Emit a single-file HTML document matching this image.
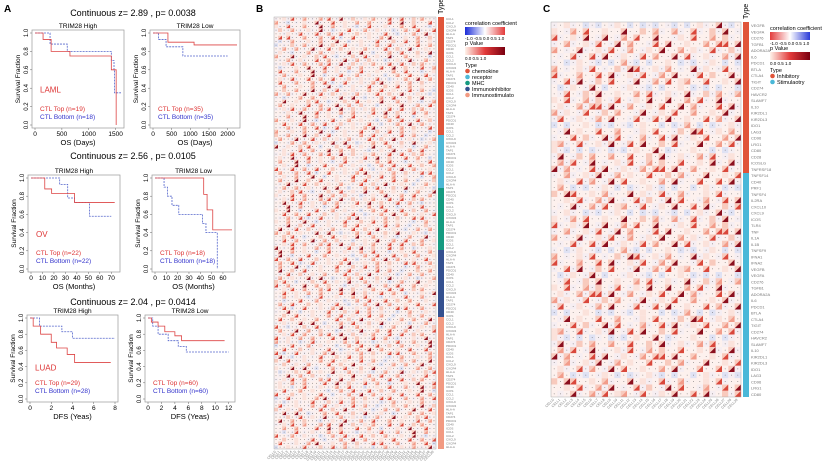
<!DOCTYPE html>
<html><head><meta charset="utf-8"><style>
body{margin:0;background:#fff;}
svg{display:block;font-family:"Liberation Sans",sans-serif;}
</style></head><body>
<svg id="fig" width="825" height="472" viewBox="0 0 825 472">
<text x="4" y="12" font-size="10" font-weight="bold">A</text>
<text x="256" y="12" font-size="10" font-weight="bold">B</text>
<text x="543" y="12" font-size="10" font-weight="bold">C</text>
<g id="km"></g>
<g id="hb"></g>
<g id="hc"></g>
</svg>
<script>
const NS='http://www.w3.org/2000/svg';
function mk(p,t,a,txt){const e=document.createElementNS(NS,t);for(const k in a)e.setAttribute(k,a[k]);if(txt!=null)e.textContent=txt;p.appendChild(e);return e;}

// ---- KM data ----
const plotTitles=["Continuous z= 2.89 , p= 0.0038","Continuous z= 2.56 , p= 0.0105","Continuous z= 2.04 , p= 0.0414"];
const cancers=["LAML","OV","LUAD"];
const xLabels=["OS (Days)","OS (Months)","DFS (Yeas)"];
const xMaxes=[[1600,2250],[75,68],[8,12.5]];
const xTicks=[[[0,500,1000,1500],[0,500,1000,1500,2000]],[[0,10,20,30,40,50,60,70],[0,10,20,30,40,50,60]],[[0,2,4,6,8],[0,2,4,6,8,10,12]]];
const nTop=[[19,35],[22,18],[29,60]];
const nBot=[[18,35],[22,18],[28,60]];
const redCurves=[
 [[[0,1],[150,0.93],[300,0.8],[650,0.75],[1380,0.75],[1420,0.6],[1500,0.6],[1510,0]],
  [[0,1],[400,0.9],[1100,0.87],[2250,0.87]]],
 [[[0,1],[12,0.88],[18,0.83],[38,0.73],[73,0.73]],
  [[0,1],[43,0.82],[46,0.65],[51,0.43],[68,0.43]]],
 [[[0,1],[0.3,0.9],[1,0.8],[2,0.7],[2.5,0.63],[3.5,0.55],[4.2,0.45],[7.6,0.45]],
  [[0,1],[0.5,0.95],[1.5,0.9],[2.5,0.83],[4,0.78],[5,0.72],[11.4,0.72]]]];
const blueCurves=[
 [[[0,1],[280,0.88],[600,0.8],[1370,0.8],[1420,0.7],[1470,0.6],[1480,0.35],[1600,0.35]],
  [[0,1],[150,0.93],[350,0.85],[800,0.75],[2000,0.75]]],
 [[[0,1],[25,0.93],[32,0.78],[38,0.73],[51,0.58],[70,0.58]],
  [[0,1],[8,0.9],[11,0.8],[15,0.7],[21,0.6],[42,0.5],[45,0.4],[55,0.4],[55,0]]],
 [[[0,1],[0.9,0.9],[3,0.83],[4,0.75],[8,0.75]],
  [[0,1],[0.7,0.9],[1.5,0.8],[3,0.72],[4.5,0.65],[5.7,0.58],[12,0.58]]]];
const boxes=[[[32,30,92,98],[150,30,90,98]],[[28,175,92,97],[152,175,83,97]],[[27,315,91,87],[145,315,90,87]]];
const titleY=[16,159,305];

const km=document.getElementById('km');
for(let r=0;r<3;r++){
 const t=mk(km,'text',{x:133,y:titleY[r],'font-size':9,'text-anchor':'middle'},plotTitles[r]);
 
 
 for(let c=0;c<2;c++){
  const [bx,by,bw,bh]=boxes[r][c];
  const g=mk(km,'g',{});
  
  
  const xs=v=>bx+3+v/xMaxes[r][c]*(bw-6);
  const ys=v=>by+bh-3-v*(bh-6);
  mk(g,'rect',{x:bx,y:by,width:bw,height:bh,fill:'none',stroke:'#999','stroke-width':0.7});
  mk(g,'text',{x:bx+bw/2,y:by-2,'font-size':6.5,'text-anchor':'middle'},c?'TRIM28 Low':'TRIM28 High');
  [0,0.2,0.4,0.6,0.8,1].forEach(v=>{
   mk(g,'line',{x1:bx,x2:bx-2,y1:ys(v),y2:ys(v),stroke:'#666','stroke-width':0.5});
   mk(g,'text',{x:bx-4,y:ys(v),'font-size':6,'text-anchor':'middle',transform:`rotate(-90 ${bx-4} ${ys(v)})`},v.toFixed(1));
  });
  xTicks[r][c].forEach(v=>{
   mk(g,'line',{x1:xs(v),x2:xs(v),y1:by+bh,y2:by+bh+2,stroke:'#666','stroke-width':0.5});
   mk(g,'text',{x:xs(v),y:by+bh+8,'font-size':6.5,'text-anchor':'middle'},String(v));
  });
  mk(g,'text',{x:bx+bw/2,y:by+bh+17,'font-size':7.5,'text-anchor':'middle'},xLabels[r]);
  mk(g,'text',{x:bx-12,y:by+bh/2,'font-size':6.5,'text-anchor':'middle',transform:`rotate(-90 ${bx-12} ${by+bh/2})`},'Survival Fraction');
  const step=(pts,col,dash)=>{let d='M'+xs(pts[0][0])+' '+ys(pts[0][1]);
   for(let i=1;i<pts.length;i++){d+=' H'+xs(pts[i][0])+' V'+ys(pts[i][1]);}
   const p=mk(g,'path',{d:d,fill:'none',stroke:col,'stroke-width':0.8});if(dash)p.setAttribute('stroke-dasharray','2 1');};
  step(blueCurves[r][c],'#5566cc',true);
  step(redCurves[r][c],'#dd4444',false);
  if(c==0)mk(g,'text',{x:bx+8,y:by+bh*0.64,'font-size':8,fill:'#d33'},cancers[r]);
  mk(g,'text',{x:bx+8,y:by+bh-17,'font-size':6.5,fill:'#d33'},'CTL Top (n='+nTop[r][c]+')');
  mk(g,'text',{x:bx+8,y:by+bh-9,'font-size':6.5,fill:'#33c'},'CTL Bottom (n='+nBot[r][c]+')');
 }
}

// ---- heatmap data (per-row pattern strings; 1-2 faint fill, 3-5 triangles light..dark, 'b' blue, '.' dot) ----
const rowPatternsB=[
 "..1.4..3...3.4..5..2..1.3...4..4..2.3...5.",
 ".3...3..4.b..4...1..3.5...1..3..2...4.4..",
 "4..b...2..4..1..5...3..1..b..3...5..1..2.",
 "..3..1...b..3..4...4..2..3...1..5..b...4.",
 ".4..2..5...1..b..3..3...5...4..2..1..3...",
 "2...4..3..b...1..5...4..1..3..3....4..5..",
 "..b..3...1..3...5..b..1...4...2..4..3..1.",
 ".1...4..3...5..3..2...b..1..5...3..4...3.",
 "3..4...2..1...4..b...3..5..3...1..4...4..",
 "..5..b...3..4...2..5...1..b...3..3..1...5",
 "1...3..4...b..1..4...3...5..3..1..b..4...",
 "..4..3..b...2..3...5..2..4...1...3..4..1."];
const rowPatternsC=[
 "..1..b.b..1.b.b.b..b.b.1..5.b.",
 "4..1.3...5.1..4..3...1.4...2.5",
 ".5..3.1..4..2.3...5..1.4..3..1",
 "3..4..2.5..1..3.4..1..5..2.3..",
 "..3..4.5..1.4..3.5...4.2..5.4.",
 ".4.5..1..4.3..5.4..1..3.5...4.",
 "5..3.4..5...1.4..3.2..4..1.5..",
 "3..4..1.5..4.5..2.4...5..3.4.1",
 ".1.b.b..b.1..b.b.3.b.b..1.b.b.",
 "4.5..3..1.4..5.3...4.5..1..3.4"];
const typeColorsB=["#e0553a","#4fb8d6","#159a80","#34508f","#f29a82"];
const typeBoundsB=[17,135,188,250,317,449];
const typeColorsC=["#e0553a","#4ab8d8"];
const typeBoundsC=[22,173,397];

function heat(gid,x0,y0,w,h,ncol,nrow,pats,tx,tcols,tb,rowOffset,legendX,legendTypes,cLabels,shift){
 const g=document.getElementById(gid);
 const cw=w/ncol,ch=h/nrow;
 const shade=['#fdf1ee','#fbe2db','#f8cabd','#f29c8a','#d9473b','#8b0f1e'];
 mk(g,'rect',{x:x0,y:y0,width:w,height:h,fill:'#fdf0ec'});
 for(let r=0;r<nrow;r++){const p=pats[(r*rowOffset)%pats.length];
  for(let c=0;c<ncol;c++){const ch_=p[(c+r*shift)%p.length];const x=x0+c*cw,y=y0+r*ch;
   if(ch_==='.'){mk(g,'rect',{x:x,y:y,width:cw,height:ch,fill:(r+c)%3?'#fdf1ee':'#f6eef2'});mk(g,'circle',{cx:x+cw/2,cy:y+ch/2,r:0.4,fill:'#444'});}
   else if(ch_==='b'){mk(g,'rect',{x:x,y:y,width:cw,height:ch,fill:'#dfe2f4'});mk(g,'circle',{cx:x+cw/2,cy:y+ch/2,r:0.4,fill:'#444'});}
   else{const v=+ch_;mk(g,'rect',{x:x,y:y,width:cw,height:ch,fill:shade[Math.min(v,2)]});
    if(v>=3)mk(g,'path',{d:`M${x} ${y+ch} L${x+cw} ${y} L${x+cw} ${y+ch}Z`,fill:shade[v]});}
  }}
 mk(g,'rect',{x:x0,y:y0,width:w,height:h,fill:'none',stroke:'#aaa','stroke-width':0.5});
 for(let i=0;i<tcols.length;i++){const b=mk(g,'rect',{x:tx,y:tb[i],width:6,height:tb[i+1]-tb[i],fill:tcols[i]});
  }
 mk(g,'text',{x:tx+5,y:y0-3,'font-size':7,transform:`rotate(-90 ${tx+5} ${y0-3})`},'Type');
 for(let r=0;r<nrow;r++)mk(g,'text',{x:tx+8,y:y0+r*ch+ch*0.8,'font-size':Math.min(ch*0.8,4),fill:'#777'},cLabels[r%cLabels.length]);
 for(let c=0;c<ncol;c++){const x=x0+c*cw+cw/2,y=y0+h+3;mk(g,'text',{x:x,y:y,'font-size':3.5,fill:'#777','text-anchor':'end',transform:`rotate(-45 ${x} ${y})`},'CELL'+c);}
 const L=mk(g,'g',{});
 const lx=legendX,ly=y0+8;
 mk(L,'text',{x:lx,y:ly,'font-size':5.5},'correlation coefficient');
 const gr1=mk(L,'defs',{});
 const lg=mk(gr1,'linearGradient',{id:gid+'g1'});
 const c1=gid==='hb'?['#1a2bd8','#ffffff','#e33b3b']:['#e33b3b','#ffffff','#2a3ad8'];
 c1.forEach((c,i)=>mk(lg,'stop',{offset:i*50+'%','stop-color':c}));
 const lg2=mk(gr1,'linearGradient',{id:gid+'g2'});
 ['#fff3ea','#e23a3a','#7a0010'].forEach((c,i)=>mk(lg2,'stop',{offset:i*50+'%','stop-color':c}));
 mk(L,'rect',{x:lx,y:ly+2,width:40,height:8,fill:`url(#${gid}g1)`});
 mk(L,'text',{x:lx,y:ly+15,'font-size':4.5},'-1.0 -0.5  0.0  0.5  1.0');
 mk(L,'text',{x:lx,y:ly+20,'font-size':5.5},'p Value');
 mk(L,'rect',{x:lx,y:ly+22,width:40,height:8,fill:`url(#${gid}g2)`});
 mk(L,'text',{x:lx,y:ly+35,'font-size':4.5},'0.0        0.5        1.0');
 mk(L,'text',{x:lx,y:ly+42,'font-size':5.5},'Type');
 legendTypes.forEach((t,i)=>{mk(L,'circle',{cx:lx+2.5,cy:ly+46+i*6,r:2.3,fill:tcols[i]});
  mk(L,'text',{x:lx+7,y:ly+48+i*6,'font-size':5.5},t);});
}
const labelsB=["CCL1","CCL2","CXCL9","CXCR4","HLA-A","TAP1","CD274","PDCD1","CD40","ICOS"];
const labelsC=["VEGFB","VEGFA","CD276","TGFB1","ADORA2A","IL6","PDCD1","BTLA","CTLA4","TIGIT","CD274","HAVCR2","SLAMF7","IL10","KIR2DL1","KIR2DL3","IDO1","LAG3","CD96","LRG1","CD80","CD28","ICOSLG","TNFRSF18","TNFSF14","CD40","PRF1","TNFSF4","IL2RA","CXCL10","CXCL9","ICOS","TLR4","TNF","IL1A","IL1B","TNFSF9","IFNA1","IFNA2"];
heat('hb',274,17,162,432,40,115,rowPatternsB,438,typeColorsB,typeBoundsB,5,465,["chemokine","receptor","MHC","Immunoinhibitor","Immunostimulato"],labelsB,7);
heat('hc',551,22,190,375,30,60,rowPatternsC,743,typeColorsC,typeBoundsC,3,770,["Inhibitory","Stimulaotry"],labelsC,11);
</script>
</body></html>
